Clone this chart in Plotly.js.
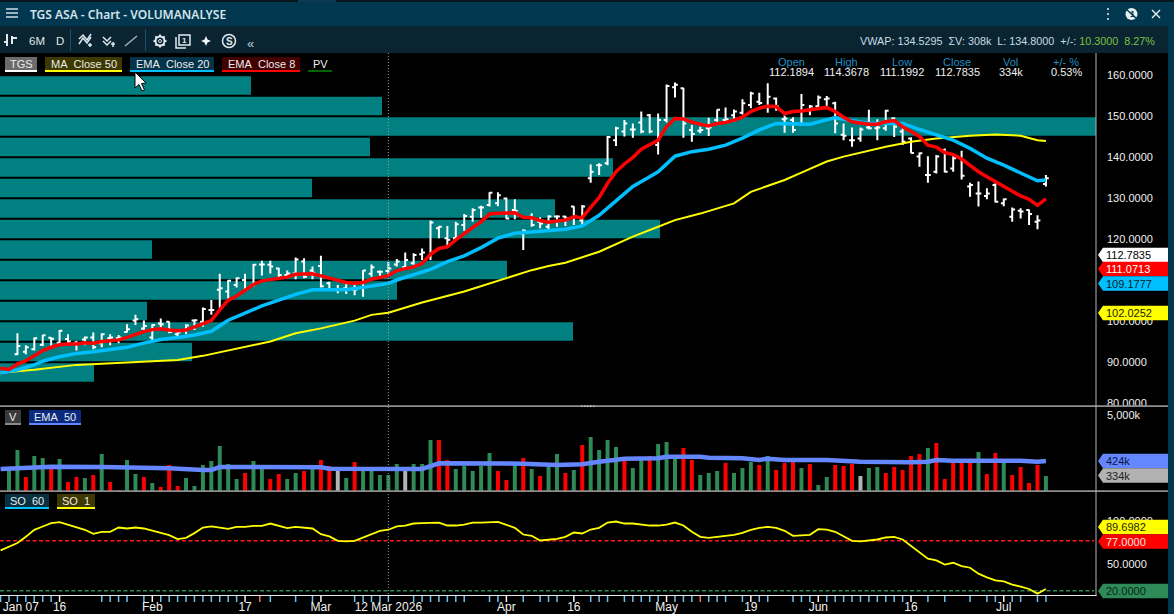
<!DOCTYPE html>
<html><head><meta charset="utf-8">
<script src="https://cdn.plot.ly/plotly-3.0.1.min.js"></script>
<style>html,body{margin:0;padding:0;background:#000;overflow:hidden}#c{width:1174px;height:614px}</style>
</head><body><div id="c"></div>
<script>
// ---------- price bars: first OHLC bar is bar number 2 ----------
const ohlcBars = Array.from({length:123},(_,k)=>k+2);
const opens = [91.9,92.5,93.1,94.2,95.9,94.7,95.6,94.7,95.5,96.0,94.6,95.8,95.8,97.3,100.1,98.2,96.0,99.4,99.8,96.8,97.8,100.1,99.8,102.7,107.6,107.2,108.8,110.0,108.8,113.8,113.7,112.8,111.2,111.6,114.5,112.3,113.4,109.2,107.7,108.0,107.7,108.2,111.5,112.0,112.19,113.8,
113.2,114.1,116.3,115.7,122.6,120.2,120.2,123.4,125.4,127.7,128.3,128.7,129.9,127.1,121.4,125.4,124.2,123.0,125.5,125.5,127.9,124.5,134.8,138.0,138.5,144.1,146.2,146.7,148.4,150.2,142.9,149.0,157.0,156.8,146.6,146.4,147.0,149.0,149.0,150.2,150.8,152.7,153.5,152.3,154.3,149.2,149.0,
148.0,151.5,152.4,154.1,153.1,145.4,144.1,144.5,147.2,147.0,147.0,149.4,146.2,144.5,140.1,135.6,136.4,141.7,137.2,139.7,132.8,131.1,130.5,133.2,128.7,125.4,126.9,127.1,124.2,133.4];
const highs = [97.0,94.1,96.0,96.6,96.0,97.8,96.8,95.1,96.2,97.2,97.0,96.8,96.6,99.2,101.5,100.1,99.2,100.6,99.9,97.8,99.2,100.4,103.3,105.1,111.5,110.0,110.7,111.5,113.9,114.7,114.7,113.0,112.3,115.5,115.3,113.3,115.9,109.6,108.8,109.6,109.2,112.4,113.8,112.3,114.37,115.1,
116.7,116.5,117.7,124.5,123.2,123.2,124.2,126.1,127.5,128.1,131.4,131.4,130.1,129.7,122.4,126.3,125.3,125.8,125.8,125.7,128.0,128.3,138.2,138.5,145.1,147.4,149.0,148.2,151.1,150.5,150.6,157.7,158.2,156.9,147.8,147.4,149.6,151.6,152.1,151.6,154.1,155.9,155.7,158.0,154.5,150.1,149.7,
155.4,152.7,155.0,154.9,153.5,148.2,147.2,147.2,151.5,149.2,151.5,149.7,147.0,144.8,141.1,140.2,140.5,142.1,140.2,141.5,133.7,134.0,132.4,133.6,129.9,127.7,127.5,127.2,125.8,135.6];
const lows = [91.7,91.9,92.8,93.9,93.8,94.3,94.3,92.8,94.1,93.1,93.6,94.1,94.6,97.2,99.0,97.2,94.7,98.2,97.0,96.3,96.8,97.8,98.6,101.5,103.0,105.5,108.2,107.2,108.4,111.1,111.6,110.6,110.4,110.2,110.4,110.2,108.2,107.4,106.8,106.6,106.3,105.9,110.8,110.4,111.20,113.3,
112.6,113.7,114.9,114.9,120.2,118.3,119.6,122.0,124.2,125.2,127.9,128.0,124.8,124.8,117.3,123.0,122.6,122.4,123.0,123.2,123.4,123.4,133.7,135.6,138.0,142.7,145.0,144.7,145.8,145.8,140.6,148.4,154.5,144.7,143.7,145.8,145.1,148.4,148.6,148.6,150.4,151.9,152.7,150.8,151.3,145.9,145.9,
147.6,150.2,152.1,152.1,145.8,144.1,142.5,143.7,146.7,144.1,146.4,144.9,142.9,140.9,137.6,133.7,136.0,136.2,136.4,134.5,130.3,127.9,129.7,128.9,128.0,124.2,125.0,123.4,122.4,132.8];
const closes = [93.9,93.6,95.8,96.5,95.7,97.6,95.0,94.6,96.0,93.6,96.8,96.0,96.0,98.0,100.4,98.8,99.0,99.2,97.3,97.2,98.9,100.2,102.9,102.7,108.0,109.8,110.4,107.7,113.7,113.8,113.3,111.2,111.6,115.0,110.8,111.8,108.5,107.7,107.7,107.6,107.7,112.3,113.1,112.0,112.78,114.5,
114.9,116.1,116.7,124.0,123.0,119.8,123.6,125.6,127.1,127.7,131.3,130.7,125.0,126.9,122.0,123.4,123.8,125.5,125.5,125.0,125.5,127.9,136.4,138.0,144.9,147.0,148.2,146.7,146.2,146.2,149.0,157.3,157.6,148.2,145.6,146.6,147.2,151.5,149.2,151.1,153.1,155.5,153.2,154.7,152.3,149.4,146.6,
152.7,152.3,154.5,154.3,148.2,145.2,144.1,146.7,147.0,147.2,151.3,147.4,143.7,141.0,140.9,135.6,140.1,136.4,139.7,135.4,133.2,131.1,131.1,129.1,129.7,127.2,126.7,126.1,124.5,134.8];

// ---------- moving averages ----------
const ema8Bars = Array.from({length:125},(_,k)=>k);
const ema8 = [88.5,88.2,89.5,90.3,91.5,92.8,93.6,94.2,94.4,94.4,94.7,94.6,95.0,95.1,95.4,96.0,96.8,97.4,97.9,98.1,97.8,97.6,97.8,98.5,99.4,100.1,102.7,105.1,106.1,107.4,108.9,109.8,110.1,110.3,110.7,111.4,111.4,111.5,111.0,110.4,109.8,109.4,109.2,109.4,110.2,110.6,111.07,112.3,
112.8,113.2,114.0,116.3,117.7,118.1,119.8,121.4,122.8,124.2,126.1,126.3,126.3,126.4,125.3,125.2,124.5,124.1,124.4,124.6,125.4,125.2,127.7,130.1,133.6,136.4,138.3,139.9,141.9,142.9,144.1,147.4,149.4,149.3,148.5,148.0,147.6,148.2,148.4,149.0,149.7,151.1,151.9,152.4,152.3,150.6,151.1,
151.2,151.5,151.9,152.1,151.1,149.7,148.6,148.2,148.0,148.0,148.6,148.9,147.4,146.2,145.0,142.9,142.4,141.1,140.6,139.5,138.0,136.4,135.2,134.0,132.9,131.8,130.5,129.7,128.2,129.8];
const ema20Bars = [0,2,4,5,7,9,11,13,15,17,19,21,23,25,27,29,31,33,35,37,39,41,43,45,46,47,51,53,55,57,59,61,63,65,67,69,71,73,75,77,78,80,82,84,86,88,90,92,94,96,99,101,103,105,107,109,111,113,115,117,119,121,122,123,124];
const ema20 = [87.4,88.1,89.3,90.2,91.3,92.1,92.5,93.1,93.6,94.6,95.5,96.0,96.6,97.5,100.2,101.9,103.7,105.1,106.5,107.6,107.6,107.6,108.2,108.8,109.18,110.0,112.6,114.5,115.9,117.9,120.2,121.4,121.7,121.9,122.4,123.2,125.8,129.3,132.8,135.2,136.4,140.2,141.3,141.9,142.9,144.6,146.6,148.2,148.0,148.0,149.6,148.9,148.2,148.2,148.2,146.7,145.5,144.1,142.1,139.7,138.0,136.0,135.0,134.2,134.4];
const ma50Bars = [0,4,9,13,17,21,24,28,32,35,38,42,44,46,50,55,60,63,65,67,71,75,78,80,83,87,89,93,95,98,100,103,105,108,111,115,118,121,123,124];
const ma50 = [87.4,88.1,89.3,89.7,90.2,90.5,91.5,93.3,95.0,97.0,98.2,100.1,101.5,102.03,104.5,107.2,110.4,112.4,113.4,114.2,116.9,120.6,123.0,124.6,126.2,128.7,131.5,134.4,136.2,138.9,140.1,141.5,142.5,143.7,144.5,145.2,145.5,145.2,144.1,143.9];

// ---------- volume profile (PV) ----------
const profilePrices = [157.44,152.44,147.44,142.44,137.44,132.44,127.44,122.44,117.44,112.44,107.44,102.44,97.44,92.44,87.44];
const profileVolume = [251,382,1096,370,613,312,555,660,152,507,397,147,573,192,94];

// ---------- volume, thousands ----------
const volBars = Array.from({length:124},(_,k)=>k+1);
const volume = [370,490,328,454,442,380,436,298,328,322,340,466,298,248,430,346,328,292,268,400,274,322,274,400,424,514,406,316,352,424,388,316,346,316,352,364,380,430,394,364,322,418,370,370,340,340,406,
364,406,406,550,550,430,376,394,364,394,472,364,310,418,442,376,334,394,466,352,370,520,568,490,550,508,430,382,430,454,526,538,436,502,430,340,352,364,412,352,382,418,400,454,370,412,418,
382,406,280,328,400,394,406,334,382,388,352,388,370,454,466,502,532,316,412,412,412,478,346,472,412,340,388,292,400,334];
const volDir = "GGRGGRGRRGRGRGGGRGRRRGGGGGGGRGGRRGGRGRRNGRGGGGGNGGGRRGGGGGRRGRGRGGRGRGGGGRGGRGGGRRGGGRGGGRGRRRGRGGRRRNGGRRRRRGRRRRRGRRGRRRRG".split("").slice(0,124);
const volEmaBars = [0,6,12,17,20,24,25,26,38,39,47,50,52,56,60,62,66,69,71,74,78,79,83,84,88,90,91,93,96,98,102,106,108,110,111,113,116,118,121,123,124];
const volEma = [376,390,388,386,380,370,370,388,386,378,378,376,410,410,404,408,400,404,420,438,440,450,450,444,440,430,438,430,430,430,420,414,416,420,430,426,428,430,426,420,424];

// ---------- stochastic oscillator ----------
const soBars = Array.from({length:125},(_,k)=>k);
const so = [66.0,70.6,74.4,81.6,89.6,93.4,97.2,98.3,95.3,92.2,89.6,85.0,87.3,87.3,92.2,91.1,92.2,91.1,88.4,85.8,83.5,78.9,80.4,85.8,92.2,93.4,92.2,90.7,93.0,93.0,94.1,94.1,96.8,94.5,91.5,93.0,92.2,91.1,84.6,82.0,77.0,76.3,77.0,80.8,84.2,88.4,89.7,93.4,
94.5,96.8,97.2,97.9,97.9,94.5,94.5,95.6,97.9,97.9,98.7,98.7,95.3,91.8,84.2,82.7,77.4,78.2,79.3,81.6,86.5,85.4,89.9,91.8,97.9,99.1,96.8,96.8,95.6,94.5,94.5,95.6,97.9,94.5,87.3,81.6,80.4,81.6,82.7,83.9,86.1,89.6,91.8,93.0,91.8,88.4,82.7,
83.1,83.9,90.3,89.9,87.3,82.0,77.0,76.3,77.0,78.5,80.8,81.6,78.5,71.3,63.7,56.5,54.6,49.7,51.9,48.1,46.2,39.4,35.2,31.8,30.6,26.9,24.6,21.9,16.6,21.9];
const soHighLevel = 77, soLowLevel = 20;

// ---------- axis text ----------
const priceTicks = [80,90,100,120,130,140,150,160];
const soTicks = [50,100];
const dateLabels = ["Jan 07","16","Feb","17","Mar","12 Mar 2026","Apr","16","May","19","Jun","16","Jul"];
const dateLabelBars = [2.4,7,18,29,38,46,60,68,79,89,97,108,119];
const minorTicks = [0,1,2,3,4,5,6,12,13,14,15,17,19,20,21,22,23,24,25,26,27,28,32,35,37,42,43,44,45,46,49,50,51,52,53,54,55,58,59,62,64,65,66,70,71,72,74,75,76,77,78,80,81,82,84,85,86,88,90,91,94,95,96,98,99,100,101,102,103,104,105,106,107,110,112,115,117,118,120,121,123,124];
const majorTicks = [7,18,29,38,60,68,79,89,97,108,119];
const flaggedTicks = [30.75,83];

// ---------- helpers ----------
const W=1174,H=614,FONT='"Liberation Sans",Arial,sans-serif';
const fx=x=>x/W, fy=y=>1-y/H;
const xr=[-0.0676,129.94], plotRight=1096;
const shapes=[], ann=[];
const rect=(x0,y0,x1,y1,fill)=>shapes.push({type:'rect',xref:'paper',yref:'paper',x0:fx(x0),x1:fx(x1),y0:fy(y0),y1:fy(y1),fillcolor:fill,line:{width:0},layer:'above'});
const poly=(pts,o={})=>shapes.push({type:'path',xref:'paper',yref:'paper',path:'M'+pts.map(p=>fx(p[0])+','+fy(p[1])).join('L')+(o.closed?'Z':''),fillcolor:o.fill||'rgba(0,0,0,0)',line:{color:o.color||'#dfe9ee',width:o.width===undefined?1.5:o.width},layer:'above'});
const circle=(cx,cy,r,o={})=>shapes.push({type:'circle',xref:'paper',yref:'paper',x0:fx(cx-r),x1:fx(cx+r),y0:fy(cy+r),y1:fy(cy-r),fillcolor:o.fill||'rgba(0,0,0,0)',line:{color:o.color||'#dfe9ee',width:o.width===undefined?1.5:o.width},layer:'above'});
const text=(x,y,s,o={})=>ann.push({xref:'paper',yref:'paper',x:fx(x),y:fy(y),text:s,showarrow:false,xanchor:o.anchor||'left',yanchor:'middle',borderpad:0,font:{family:o.family||FONT,size:o.size||11,color:o.color||'#e6e6e6',weight:o.weight||400}});

// chrome
rect(0,0,1174,2,'#06141c'); rect(298,0,336,2,'#0d3a50');
rect(0,2,1174,26,'#02384f');
rect(0,26,1168,53,'#0b2431');
rect(1168,26,1174,614,'#02384f');
[9,13,17].forEach(y=>rect(6,y-0.7,18,y+0.7,'#dfe9ee'));
text(29,14,'TGS ASA - Chart - VOLUMANALYSE',{family:'"Noto Sans",sans-serif',size:12,color:'#d3e3ea',weight:600});
// window buttons
[9,14,19].forEach(y=>circle(1108,y,1,{fill:'#e6eef2',width:0}));
circle(1131.5,14,6,{fill:'#e6eef2',width:0});
poly([[1125,8],[1138,20]],{width:1.5,color:'#02384f'});
text(1132,14,'1',{anchor:'center',size:9,color:'#02384f',weight:700});
poly([[1152,10],[1160,18]]); poly([[1160,10],[1152,18]]);
// toolbar
rect(70,29,71,51,'#14506e'); rect(145,29,146,51,'#14506e');
poly([[7,46],[7,34]],{width:2});poly([[4,42],[7,42]],{width:2});poly([[12,36],[12,44]],{width:2});poly([[12,38],[17,38]],{width:2});
text(28,41,'6M',{size:11.5,color:'#dfe9ee'}); text(55,41,'D',{size:11.5,color:'#dfe9ee'});
poly([[79,44],[83,38],[87,43],[91,37]]);poly([[79,39],[83,35],[87,40],[91,34]]);poly([[88,45],[92,45]]);poly([[90,43],[90,47]]);
poly([[103,37],[107,41],[111,37]]);poly([[103,41],[107,45],[111,41]]);poly([[111,44],[115,44]]);poly([[113,42],[113,47]]);
poly([[125,46],[137,36]],{color:'#9fb3bd'});
// gear: ring, hub and teeth
circle(160,41,4.5,{width:2});circle(160,41,1.5,{width:1});
[[160,34.5,160,36.5],[160,45.5,160,47.5],[153.5,41,155.5,41],[164.5,41,166.5,41],[155.4,36.4,156.8,37.8],[163.2,44.2,164.6,45.6],[155.4,45.6,156.8,44.2],[163.2,37.8,164.6,36.4]].forEach(t=>poly([[t[0],t[1]],[t[2],t[3]]],{width:2}));
poly([[176,37],[176,48],[186,48]]);poly([[179,35],[190,35],[190,45],[179,45]],{closed:true});text(184.5,40,'1',{anchor:'center',size:8,color:'#dfe9ee',weight:700});
poly([[206,36],[207.5,39.5],[211,41],[207.5,42.5],[206,46],[204.5,42.5],[201,41],[204.5,39.5]],{closed:true,fill:'#f2f6f8',width:0});
circle(229,41,6.5,{width:1.5});text(229,41,'S',{anchor:'center',size:10,color:'#dfe9ee',weight:700});
text(246,43,'«',{size:13,color:'#b9cdd7'});
// quote line
text(1156,41,'VWAP: 134.5295&nbsp;&nbsp;ΣV: 308k&nbsp;&nbsp;L: 134.8000&nbsp;&nbsp;+/-: <span style="color:#7cc142">10.3000&nbsp;&nbsp;8.27%</span>',{anchor:'right',size:10.8,color:'#c8dde6'});
// OHLC header
[['Open','112.1894',791],['High','114.3678',847],['Low','111.1992',902],['Close','112.7835',957],['Vol','334k',1011],['+/- %','0.53%',1066]].forEach(a=>{
  text(a[2],62,a[0],{anchor:'center',color:'#1f8fc4'});text(a[2],72,a[1],{anchor:'center',color:'#f2f2f2'});
});
// legend chips
const chip=(x0,x1,y0,bg,line,label)=>{ if(bg) rect(x0,y0,x1,y0+13,bg); rect(x0,y0+13,x1,y0+15,line); text((x0+x1)/2,y0+7,label,{anchor:'center',color:'#ececec',size:11}); };
chip(5,37,57,'#6b6b6b','#ffffff','TGS');
chip(45,122,57,'#3d3900','#ffff00','MA&nbsp;&nbsp;Close 50');
chip(130,214,57,'#04344a','#00bfff','EMA&nbsp;&nbsp;Close 20');
chip(222,300,57,'#420000','#ff0000','EMA&nbsp;&nbsp;Close 8');
chip(308,332,57,null,'#006400','PV');
chip(5,21,410,'#3a3a3a','#8a8a8a','V');
chip(29,81,410,'#0a2a80','#5f87ff','EMA&nbsp;&nbsp;50');
chip(5,49,494,'#073040','#00bfff','SO&nbsp;&nbsp;60');
chip(57,95,494,'#3d3900','#ffff00','SO&nbsp;&nbsp;1');
// mouse cursor
poly([[135,72],[135,88],[139,84.5],[142,91],[144.5,90],[141.5,83.5],[146,83]],{closed:true,fill:'#ffffff',color:'#000',width:1});
// separators and axis lines
rect(0,405.2,1168,407,'#8e8e8e');
rect(0,490.2,1168,492,'#8e8e8e');
rect(1095.5,53,1096.5,596,'#b4b4b4');
rect(0,595,1096.5,596,'#e8e8e8');
[581,584,587,590,593].forEach(x=>rect(x,405.5,x+1.5,406.8,'#d8d8d8'));
// crosshair
shapes.push({type:'line',xref:'x4',yref:'paper',x0:46,x1:46,y0:fy(53),y1:fy(595),line:{color:'#9a9a9a',width:1,dash:'1px,2px'},layer:'above'});
// SO levels
[[soHighLevel,'#ff1a1a'],[soLowLevel,'#2e8b57']].forEach(a=>shapes.push({type:'line',xref:'paper',yref:'y3',x0:0,x1:fx(plotRight-2),y0:a[0],y1:a[0],line:{color:a[1],width:1.5,dash:'4px,2.5px'},layer:'below'}));
// date ticks
const tick=(v,c)=>shapes.push({type:'line',xref:'x4',yref:'paper',x0:v,x1:v,y0:fy(596),y1:fy(602),line:{color:c,width:1.5},layer:'above'});
minorTicks.forEach(v=>tick(v,'#6cc4f2')); majorTicks.forEach(v=>tick(v,'#f2f2f2')); flaggedTicks.forEach(v=>tick(v,'#f0705a'));
// value tags
const tag=(yc,fill,label,color)=>{ poly([[1098,yc],[1103,yc-7.2],[1168,yc-7.2],[1168,yc+7.2],[1103,yc+7.2]],{closed:true,fill:fill,width:0}); text(1105,yc,label,{color:color,size:11}); };
tag(255,'#ffffff','112.7835','#000');
tag(269,'#ff0000','111.0713','#fff');
tag(283.5,'#00bfff','109.1777','#001a22');
tag(313,'#ffff00','102.0252','#1a1a00');
tag(461,'#6487ff','424k','#0a1440');
tag(475.5,'#b2b2b2','334k','#222');
tag(527,'#ffff00','89.6982','#1a1a00');
tag(541.5,'#ff0000','77.0000','#f4e8e0');
tag(591,'#2e8b57','20.0000','#06251a');
text(1106,415,'5,000k',{color:'#f0f0f0',size:11});

// ---------- traces ----------
const barColor={G:'#2e8b57',R:'#ff0000',N:'#b4b4b4'};
const data=[
 {type:'bar',orientation:'h',x:profileVolume,y:profilePrices,width:4.5,xaxis:'x',yaxis:'y',marker:{color:'#008080',line:{width:0}},hoverinfo:'skip'},
 {type:'ohlc',x:ohlcBars,open:opens,high:highs,low:lows,close:closes,xaxis:'x2',yaxis:'y',tickwidth:0.34,increasing:{line:{color:'#ffffff',width:2}},decreasing:{line:{color:'#ffffff',width:2}},hoverinfo:'skip'},
 {type:'scatter',mode:'lines',x:ma50Bars,y:ma50,xaxis:'x2',yaxis:'y',line:{color:'#ffff00',width:2},hoverinfo:'skip'},
 {type:'scatter',mode:'lines',x:ema20Bars,y:ema20,xaxis:'x2',yaxis:'y',line:{color:'#00bfff',width:3.5},hoverinfo:'skip'},
 {type:'scatter',mode:'lines',x:ema8Bars,y:ema8,xaxis:'x2',yaxis:'y',line:{color:'#ff0000',width:3.5},hoverinfo:'skip'},
 {type:'bar',x:volBars,y:volume,width:0.47,xaxis:'x3',yaxis:'y2',marker:{color:volDir.map(d=>barColor[d]),line:{width:0}},hoverinfo:'skip'},
 {type:'scatter',mode:'lines',x:volEmaBars,y:volEma,xaxis:'x3',yaxis:'y2',line:{color:'#6487ff',width:4.5},hoverinfo:'skip'},
 {type:'scatter',mode:'lines',x:soBars,y:so,xaxis:'x4',yaxis:'y3',line:{color:'#ffff00',width:1.8},hoverinfo:'skip'}
];
const dom=[0,plotRight/W];
const hidden={showgrid:false,zeroline:false,showticklabels:false,ticks:'',showline:false};
const yBase={side:'right',showgrid:false,zeroline:false,showline:false,ticks:'',tickfont:{family:FONT,size:11,color:'#f0f0f0'},ticklabelstandoff:10};
const layout={
 width:W,height:H,autosize:false,margin:{l:0,r:0,t:0,b:0,pad:0},paper_bgcolor:'#000',plot_bgcolor:'#000',showlegend:false,barmode:'overlay',dragmode:false,hovermode:false,
 xaxis:Object.assign({domain:dom,range:[0,plotRight],anchor:'y',fixedrange:true},hidden),
 xaxis2:Object.assign({domain:dom,range:xr,anchor:'y',overlaying:'x',fixedrange:true,rangeslider:{visible:false}},hidden),
 xaxis3:Object.assign({domain:dom,range:xr,anchor:'y2',fixedrange:true},hidden),
 xaxis4:{domain:dom,range:xr,anchor:'y3',fixedrange:true,showgrid:false,zeroline:false,showline:false,ticks:'',tickmode:'array',tickvals:dateLabelBars,ticktext:dateLabels,tickangle:0,tickfont:{family:FONT,size:12,color:'#f2f2f2'},ticklabelstandoff:3},
 yaxis:Object.assign({},yBase,{domain:[fy(406),fy(53)],range:[79.27,165.37],anchor:'x',tickmode:'array',tickvals:priceTicks,tickformat:'.4f',fixedrange:true}),
 yaxis2:Object.assign({domain:[fy(491),fy(407)],range:[244,748],anchor:'x3',fixedrange:true},hidden,{side:'right'}),
 yaxis3:Object.assign({},yBase,{domain:[fy(595),fy(491)],range:[15,134],anchor:'x4',tickmode:'array',tickvals:soTicks,tickformat:'.4f',fixedrange:true}),
 shapes:shapes,annotations:ann
};
Plotly.newPlot('c',data,layout,{displayModeBar:false,staticPlot:true});
</script></body></html>
